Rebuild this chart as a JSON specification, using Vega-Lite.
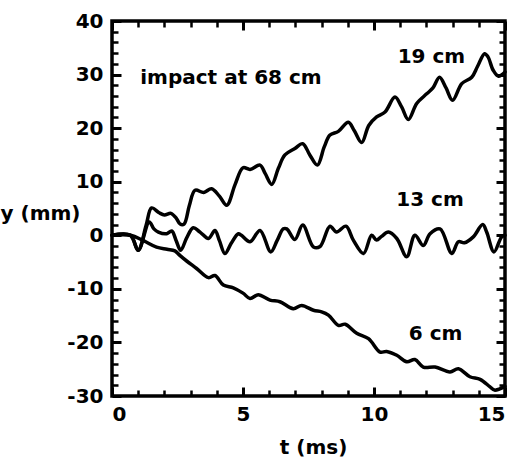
{
  "$schema": "https://vega.github.io/schema/vega-lite/v6.json",
  "width": 393,
  "height": 375,
  "autosize": {"type": "none"},
  "padding": {"left": 112, "top": 21, "right": 12, "bottom": 62},
  "background": "white",
  "config": {
    "view": {"stroke": "black", "strokeWidth": 3.5},
    "axis": {"domain": false, "grid": false, "labelFont": "DejaVu Sans", "labelFontWeight": "bold", "labelFontSize": 20, "labelColor": "black", "titleFont": "DejaVu Sans", "titleFontWeight": "bold", "titleFontSize": 20, "titleColor": "black"}
  },
  "data": {"values": [
      {"s": "19 cm", "t": 0, "y": 0}, {"s": "19 cm", "t": 0.7, "y": 0}, {"s": "19 cm", "t": 1.0, "y": -2.8}, {"s": "19 cm", "t": 1.3, "y": 1.8}, {"s": "19 cm", "t": 1.51, "y": 5.1}, {"s": "19 cm", "t": 1.8, "y": 4.2}, {"s": "19 cm", "t": 2.0, "y": 3.8}, {"s": "19 cm", "t": 2.25, "y": 4.1}, {"s": "19 cm", "t": 2.45, "y": 3.2}, {"s": "19 cm", "t": 2.6, "y": 2.1}, {"s": "19 cm", "t": 2.75, "y": 2.1}, {"s": "19 cm", "t": 2.95, "y": 5.5}, {"s": "19 cm", "t": 3.17, "y": 8.4}, {"s": "19 cm", "t": 3.5, "y": 8.0}, {"s": "19 cm", "t": 3.8, "y": 8.7}, {"s": "19 cm", "t": 4.1, "y": 7.3}, {"s": "19 cm", "t": 4.38, "y": 5.6}, {"s": "19 cm", "t": 4.7, "y": 9.5}, {"s": "19 cm", "t": 5.0, "y": 12.6}, {"s": "19 cm", "t": 5.27, "y": 12.3}, {"s": "19 cm", "t": 5.65, "y": 13.1}, {"s": "19 cm", "t": 5.85, "y": 11.5}, {"s": "19 cm", "t": 6.1, "y": 9.5}, {"s": "19 cm", "t": 6.35, "y": 12.5}, {"s": "19 cm", "t": 6.6, "y": 15.0}, {"s": "19 cm", "t": 6.98, "y": 16.2}, {"s": "19 cm", "t": 7.28, "y": 17.1}, {"s": "19 cm", "t": 7.55, "y": 15.0}, {"s": "19 cm", "t": 7.84, "y": 13.1}, {"s": "19 cm", "t": 8.1, "y": 16.5}, {"s": "19 cm", "t": 8.32, "y": 18.7}, {"s": "19 cm", "t": 8.64, "y": 19.4}, {"s": "19 cm", "t": 9.02, "y": 21.1}, {"s": "19 cm", "t": 9.25, "y": 19.5}, {"s": "19 cm", "t": 9.53, "y": 17.3}, {"s": "19 cm", "t": 9.8, "y": 20.5}, {"s": "19 cm", "t": 10.1, "y": 22.1}, {"s": "19 cm", "t": 10.42, "y": 23.0}, {"s": "19 cm", "t": 10.8, "y": 25.8}, {"s": "19 cm", "t": 11.05, "y": 24.0}, {"s": "19 cm", "t": 11.31, "y": 21.6}, {"s": "19 cm", "t": 11.63, "y": 24.6}, {"s": "19 cm", "t": 12.01, "y": 26.4}, {"s": "19 cm", "t": 12.25, "y": 27.5}, {"s": "19 cm", "t": 12.5, "y": 29.5}, {"s": "19 cm", "t": 12.75, "y": 27.5}, {"s": "19 cm", "t": 13.0, "y": 25.2}, {"s": "19 cm", "t": 13.35, "y": 28.3}, {"s": "19 cm", "t": 13.73, "y": 29.5}, {"s": "19 cm", "t": 13.95, "y": 31.5}, {"s": "19 cm", "t": 14.22, "y": 33.9}, {"s": "19 cm", "t": 14.35, "y": 33.3}, {"s": "19 cm", "t": 14.55, "y": 30.8}, {"s": "19 cm", "t": 14.75, "y": 29.7}, {"s": "19 cm", "t": 15.0, "y": 30.5},
      {"s": "13 cm", "t": 0, "y": 0}, {"s": "13 cm", "t": 0.7, "y": 0}, {"s": "13 cm", "t": 1.0, "y": -2.8}, {"s": "13 cm", "t": 1.42, "y": 2.5}, {"s": "13 cm", "t": 1.6, "y": 1.2}, {"s": "13 cm", "t": 1.77, "y": 0.6}, {"s": "13 cm", "t": 2.09, "y": 0.3}, {"s": "13 cm", "t": 2.28, "y": 0.8}, {"s": "13 cm", "t": 2.45, "y": -1.0}, {"s": "13 cm", "t": 2.62, "y": -2.8}, {"s": "13 cm", "t": 2.85, "y": -0.5}, {"s": "13 cm", "t": 3.1, "y": 1.4}, {"s": "13 cm", "t": 3.36, "y": 0.6}, {"s": "13 cm", "t": 3.68, "y": -0.6}, {"s": "13 cm", "t": 3.93, "y": 0.9}, {"s": "13 cm", "t": 4.1, "y": -1.0}, {"s": "13 cm", "t": 4.31, "y": -3.4}, {"s": "13 cm", "t": 4.55, "y": -1.5}, {"s": "13 cm", "t": 4.82, "y": 0.3}, {"s": "13 cm", "t": 4.94, "y": 0.0}, {"s": "13 cm", "t": 5.27, "y": -1.2}, {"s": "13 cm", "t": 5.65, "y": 0.9}, {"s": "13 cm", "t": 6.06, "y": -3.1}, {"s": "13 cm", "t": 6.3, "y": -1.0}, {"s": "13 cm", "t": 6.54, "y": 1.2}, {"s": "13 cm", "t": 6.67, "y": 1.2}, {"s": "13 cm", "t": 6.98, "y": -0.8}, {"s": "13 cm", "t": 7.28, "y": 1.9}, {"s": "13 cm", "t": 7.69, "y": -2.2}, {"s": "13 cm", "t": 7.94, "y": -2.1}, {"s": "13 cm", "t": 8.32, "y": 1.7}, {"s": "13 cm", "t": 8.57, "y": 0.6}, {"s": "13 cm", "t": 8.93, "y": 1.7}, {"s": "13 cm", "t": 9.21, "y": -0.9}, {"s": "13 cm", "t": 9.6, "y": -3.4}, {"s": "13 cm", "t": 9.91, "y": 0.0}, {"s": "13 cm", "t": 10.1, "y": -0.9}, {"s": "13 cm", "t": 10.29, "y": -0.2}, {"s": "13 cm", "t": 10.55, "y": 0.6}, {"s": "13 cm", "t": 10.87, "y": -0.6}, {"s": "13 cm", "t": 11.25, "y": -4.0}, {"s": "13 cm", "t": 11.56, "y": 0.0}, {"s": "13 cm", "t": 11.88, "y": -1.9}, {"s": "13 cm", "t": 12.14, "y": 0.3}, {"s": "13 cm", "t": 12.52, "y": 1.2}, {"s": "13 cm", "t": 12.97, "y": -3.4}, {"s": "13 cm", "t": 13.22, "y": -1.2}, {"s": "13 cm", "t": 13.45, "y": -1.4}, {"s": "13 cm", "t": 13.79, "y": -0.3}, {"s": "13 cm", "t": 14.15, "y": 2.0}, {"s": "13 cm", "t": 14.3, "y": 0.6}, {"s": "13 cm", "t": 14.58, "y": -3.1}, {"s": "13 cm", "t": 14.87, "y": -0.3}, {"s": "13 cm", "t": 15.0, "y": 0.0},
      {"s": "6 cm", "t": 0, "y": 0}, {"s": "6 cm", "t": 0.7, "y": 0}, {"s": "6 cm", "t": 1.2, "y": -1.0}, {"s": "6 cm", "t": 1.7, "y": -2.2}, {"s": "6 cm", "t": 2.1, "y": -2.6}, {"s": "6 cm", "t": 2.4, "y": -2.9}, {"s": "6 cm", "t": 2.6, "y": -3.8}, {"s": "6 cm", "t": 2.85, "y": -4.8}, {"s": "6 cm", "t": 3.23, "y": -6.2}, {"s": "6 cm", "t": 3.68, "y": -7.9}, {"s": "6 cm", "t": 3.93, "y": -7.5}, {"s": "6 cm", "t": 4.25, "y": -9.3}, {"s": "6 cm", "t": 4.63, "y": -9.8}, {"s": "6 cm", "t": 5.0, "y": -10.8}, {"s": "6 cm", "t": 5.27, "y": -11.8}, {"s": "6 cm", "t": 5.58, "y": -11.1}, {"s": "6 cm", "t": 6.03, "y": -12.1}, {"s": "6 cm", "t": 6.41, "y": -12.4}, {"s": "6 cm", "t": 6.92, "y": -13.7}, {"s": "6 cm", "t": 7.24, "y": -13.1}, {"s": "6 cm", "t": 7.69, "y": -14.0}, {"s": "6 cm", "t": 8.0, "y": -14.3}, {"s": "6 cm", "t": 8.26, "y": -14.9}, {"s": "6 cm", "t": 8.64, "y": -16.8}, {"s": "6 cm", "t": 8.9, "y": -16.6}, {"s": "6 cm", "t": 9.34, "y": -18.3}, {"s": "6 cm", "t": 9.79, "y": -19.3}, {"s": "6 cm", "t": 10.23, "y": -21.8}, {"s": "6 cm", "t": 10.48, "y": -21.7}, {"s": "6 cm", "t": 10.87, "y": -22.4}, {"s": "6 cm", "t": 11.25, "y": -23.6}, {"s": "6 cm", "t": 11.56, "y": -23.2}, {"s": "6 cm", "t": 11.88, "y": -24.6}, {"s": "6 cm", "t": 12.33, "y": -24.6}, {"s": "6 cm", "t": 12.9, "y": -25.5}, {"s": "6 cm", "t": 13.22, "y": -24.9}, {"s": "6 cm", "t": 13.66, "y": -26.4}, {"s": "6 cm", "t": 14.05, "y": -26.9}, {"s": "6 cm", "t": 14.43, "y": -28.3}, {"s": "6 cm", "t": 14.6, "y": -28.9}, {"s": "6 cm", "t": 15.0, "y": -28.2}
  ]},
  "resolve": {"axis": {"x": "independent", "y": "independent"}},
  "layer": [
    {
      "mark": {"type": "line", "color": "black", "strokeWidth": 3.5, "strokeJoin": "round", "strokeCap": "round", "interpolate": "catmull-rom"},
      "encoding": {
        "x": {"field": "t", "type": "quantitative", "scale": {"domain": [0, 15], "nice": false, "zero": false},
              "axis": {"orient": "bottom", "values": [0, 5, 10, 15], "tickSize": -9, "tickWidth": 3, "tickColor": "black", "labelPadding": 17, "labelExpr": "'' + datum.value", "title": "t (ms)", "titleX": 201, "titleY": 51, "titleBaseline": "middle"}},
        "y": {"field": "y", "type": "quantitative", "scale": {"domain": [-30, 40], "nice": false, "zero": false},
              "axis": {"orient": "left", "values": [-30, -20, -10, 0, 10, 20, 30, 40], "tickSize": -9, "tickWidth": 3, "tickColor": "black", "labelPadding": 18, "labelExpr": "'' + datum.value", "title": "y (mm)", "titleAngle": 0, "titleX": -72, "titleY": 192, "titleBaseline": "middle"}},
        "detail": {"field": "s"}
      }
    },
    {
      "mark": {"type": "line", "opacity": 0},
      "encoding": {
        "x": {"field": "t", "type": "quantitative", "axis": {"orient": "bottom", "offset": -6, "values": [1,2,3,4,6,7,8,9,11,12,13,14], "tickSize": 6, "tickWidth": 2.5, "tickColor": "black", "labels": false, "title": null}},
        "y": {"field": "y", "type": "quantitative", "axis": {"orient": "left", "offset": -6, "values": [-28,-26,-24,-22,-18,-16,-14,-12,-8,-6,-4,-2,2,4,6,8,12,14,16,18,22,24,26,28,32,34,36,38], "tickSize": 6, "tickWidth": 2.5, "tickColor": "black", "labels": false, "title": null}}
      }
    },
    {
      "mark": {"type": "line", "opacity": 0},
      "encoding": {
        "x": {"field": "t", "type": "quantitative", "axis": {"orient": "top", "offset": -9, "values": [0, 5, 10, 15], "tickSize": 9, "tickWidth": 3, "tickColor": "black", "labels": false, "title": null}},
        "y": {"field": "y", "type": "quantitative", "axis": {"orient": "right", "offset": -9, "values": [-30, -20, -10, 0, 10, 20, 30, 40], "tickSize": 9, "tickWidth": 3, "tickColor": "black", "labels": false, "title": null}}
      }
    },
    {
      "mark": {"type": "line", "opacity": 0},
      "encoding": {
        "x": {"field": "t", "type": "quantitative", "axis": {"orient": "top", "offset": -6, "values": [1,2,3,4,6,7,8,9,11,12,13,14], "tickSize": 6, "tickWidth": 2.5, "tickColor": "black", "labels": false, "title": null}},
        "y": {"field": "y", "type": "quantitative", "axis": {"orient": "right", "offset": -6, "values": [-28,-26,-24,-22,-18,-16,-14,-12,-8,-6,-4,-2,2,4,6,8,12,14,16,18,22,24,26,28,32,34,36,38], "tickSize": 6, "tickWidth": 2.5, "tickColor": "black", "labels": false, "title": null}}
      }
    },
    {
      "data": {"values": [
        {"label": "impact at 68 cm", "t": 4.54, "y": 29.3},
        {"label": "19 cm", "t": 12.19, "y": 33.2},
        {"label": "13 cm", "t": 12.14, "y": 6.5},
        {"label": "6 cm", "t": 12.35, "y": -18.4}
      ]},
      "mark": {"type": "text", "color": "black", "align": "center", "baseline": "middle", "font": "DejaVu Sans", "fontWeight": "bold", "fontSize": 20},
      "encoding": {
        "x": {"field": "t", "type": "quantitative", "axis": {"orient": "top", "labels": false, "ticks": false, "title": null}},
        "y": {"field": "y", "type": "quantitative", "axis": {"orient": "right", "labels": false, "ticks": false, "title": null}},
        "text": {"field": "label"}
      }
    }
  ]
}
